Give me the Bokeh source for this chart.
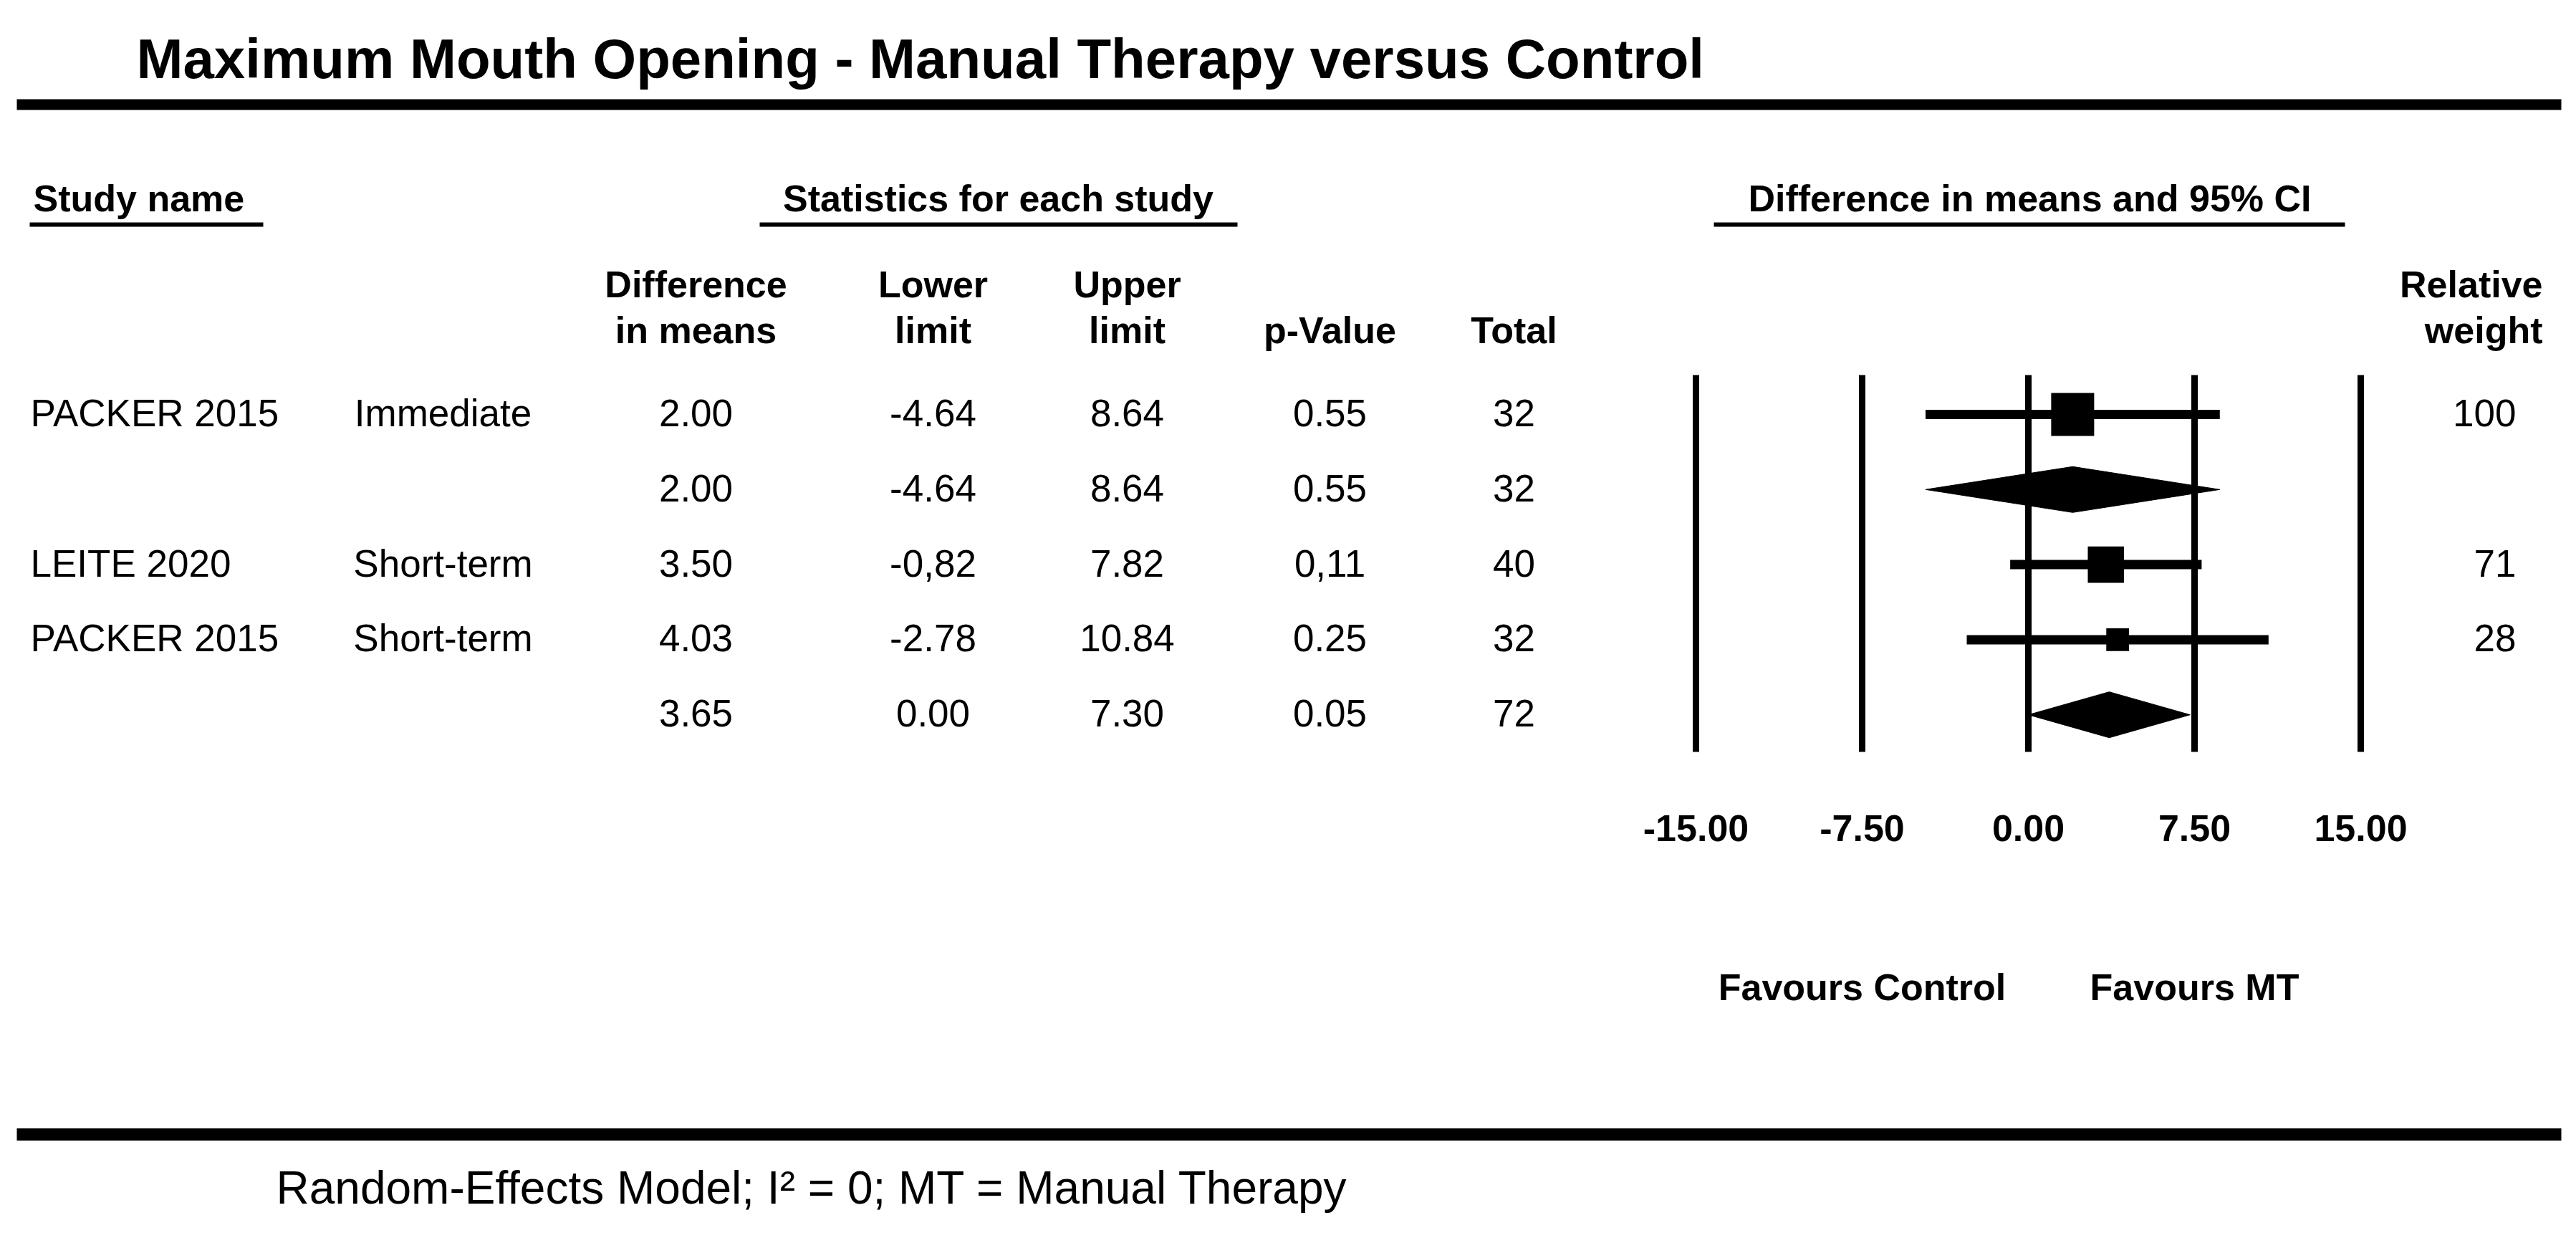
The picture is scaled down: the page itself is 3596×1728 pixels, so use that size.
import math
from bokeh.plotting import figure
from bokeh.models import Range1d, ColumnDataSource
from bokeh.core.properties import value
from bokeh.embed import file_html
from bokeh.resources import INLINE

# ---------------- data ----------------
title_text = "Maximum Mouth Opening -  Manual Therapy versus Control"
study_names = ["PACKER 2015", "", "LEITE 2020", "PACKER 2015", ""]
timepoints = ["Immediate", "", "Short-term", "Short-term", ""]
diff_txt = ["2.00", "2.00", "3.50", "4.03", "3.65"]
lower_txt = ["-4.64", "-4.64", "-0,82", "-2.78", "0.00"]
upper_txt = ["8.64", "8.64", "7.82", "10.84", "7.30"]
pval_txt = ["0.55", "0.55", "0,11", "0.25", "0.05"]
total_txt = ["32", "32", "40", "32", "72"]
weight_txt = ["100", "", "71", "28", ""]
is_summary = [False, True, False, False, True]
axis_ticks = [-15.0, -7.5, 0.0, 7.5, 15.0]
axis_tick_labels = ["-15.00", "-7.50", "0.00", "7.50", "15.00"]
favours_labels = ["Favours Control", "Favours MT"]
col_head_1 = ["Difference", "Lower", "Upper", "", ""]
col_head_2 = ["in means", "limit", "limit", "p-Value", "Total"]
section_heads = ["Study name", "Statistics for each study", "Difference in means and 95% CI"]
weight_head = ["Relative", "weight"]
footer_text = "Random-Effects Model; I\u00b2 = 0; MT = Manual Therapy"


def num(s):
    return float(s.replace(",", "."))


diff = [num(s) for s in diff_txt]
lower = [num(s) for s in lower_txt]
upper = [num(s) for s in upper_txt]

# ---------------- layout (page pixels) ----------------
W, H = 3580, 1712
OFF = 0
FONT = value("Liberation Sans")
BASE_FIX = 0.36                    # svg alphabetic baseline correction (em)
ROW_BASE0, ROW_STEP = 595, 104.8
MARK_DY = -17
FOREST_PX = (2367, 3295)          # page x of -15 and +15
FOREST_LIM = (axis_ticks[0], axis_ticks[-1])
COL_X = [971, 1302, 1573, 1856, 2113]
DATA_FS = 53
HEAD_FS = 52

unit = (FOREST_PX[1] - FOREST_PX[0]) / (FOREST_LIM[1] - FOREST_LIM[0])
f_start = FOREST_LIM[0] - (FOREST_PX[0] - OFF) / unit
f_end = FOREST_LIM[1] + (OFF + W - FOREST_PX[1]) / unit

p = figure(width=W, height=H, output_backend="svg", toolbar_location=None,
           x_range=Range1d(OFF, OFF + W), y_range=Range1d(OFF + H, OFF),
           x_axis_location=None, y_axis_location=None, min_border=0)
p.extra_x_ranges = {"forest": Range1d(f_start, f_end)}
p.grid.visible = False
p.outline_line_color = None
p.background_fill_color = "white"
p.border_fill_color = "white"


def txt(x, y, t, size, bold=False, align="left", rng="default"):
    yy = [v - BASE_FIX * size for v in y]
    p.text(x=x, y=yy, text=t, text_font=FONT, text_font_size=value(f"{size}px"),
           text_font_style="bold" if bold else "normal", text_align=align,
           text_baseline="alphabetic", text_color="black", x_range_name=rng)


# title and rules
txt([190], [110], [title_text], 78, bold=True)
p.segment(x0=[23, 23], x1=[3575, 3575], y0=[145.5, 1583], y1=[145.5, 1583],
          line_width=[15, 17], line_color="black")

# section headers with underlines
txt([46], [295], [section_heads[0]], HEAD_FS, bold=True)
txt([1393], [295], [section_heads[1]], HEAD_FS, bold=True, align="center")
txt([2833], [295], [section_heads[2]], HEAD_FS, bold=True, align="center")
p.segment(x0=[41, 1060, 2392], x1=[367, 1727, 3273], y0=[313] * 3, y1=[313] * 3,
          line_width=6, line_color="black")

# column headers
txt(COL_X, [415] * 5, col_head_1, HEAD_FS, bold=True, align="center")
txt(COL_X, [479] * 5, col_head_2, HEAD_FS, bold=True, align="center")
txt([3549, 3549], [415, 479], weight_head, HEAD_FS, bold=True, align="right")

# table rows
base_y = [ROW_BASE0 + i * ROW_STEP for i in range(len(diff))]
mark_y = [b + MARK_DY for b in base_y]
txt([42] * 5, base_y, study_names, DATA_FS)
txt([618] * 5, base_y, timepoints, DATA_FS, align="center")
for cx, col in zip(COL_X, [diff_txt, lower_txt, upper_txt, pval_txt, total_txt]):
    txt([cx] * 5, base_y, col, DATA_FS, align="center")
txt([3512] * 5, base_y, weight_txt, DATA_FS, align="right")

# forest: reference lines
p.segment(x0=axis_ticks, x1=axis_ticks, y0=[523] * 5, y1=[1049] * 5,
          line_width=9, line_color="black", x_range_name="forest")
txt(axis_ticks, [1174] * 5, axis_tick_labels, HEAD_FS, bold=True, align="center", rng="forest")
txt([-7.5, 7.5], [1396, 1396], favours_labels, HEAD_FS, bold=True, align="center", rng="forest")

# studies
idx = [i for i, s in enumerate(is_summary) if not s]
src = ColumnDataSource(dict(
    lo=[lower[i] for i in idx], hi=[upper[i] for i in idx], est=[diff[i] for i in idx],
    y=[mark_y[i] for i in idx],
    size=[6.0 * math.sqrt(float(weight_txt[i])) for i in idx]))
p.segment(x0="lo", x1="hi", y0="y", y1="y", source=src, line_width=13,
          line_color="black", x_range_name="forest")
p.scatter(x="est", y="y", size="size", marker="square", source=src,
          fill_color="black", line_color=None, x_range_name="forest")

# summary diamonds
sidx = [i for i, s in enumerate(is_summary) if s]
HALF = 32
dsrc = ColumnDataSource(dict(
    xs=[[lower[i], diff[i], upper[i], diff[i]] for i in sidx],
    ys=[[mark_y[i], mark_y[i] - HALF, mark_y[i], mark_y[i] + HALF] for i in sidx]))
p.patches(xs="xs", ys="ys", source=dsrc, fill_color="black", line_color="black",
          line_width=1, x_range_name="forest")

# footer
txt([385], [1681], [footer_text], 64)

open("out.html", "w").write(file_html(p, INLINE))
